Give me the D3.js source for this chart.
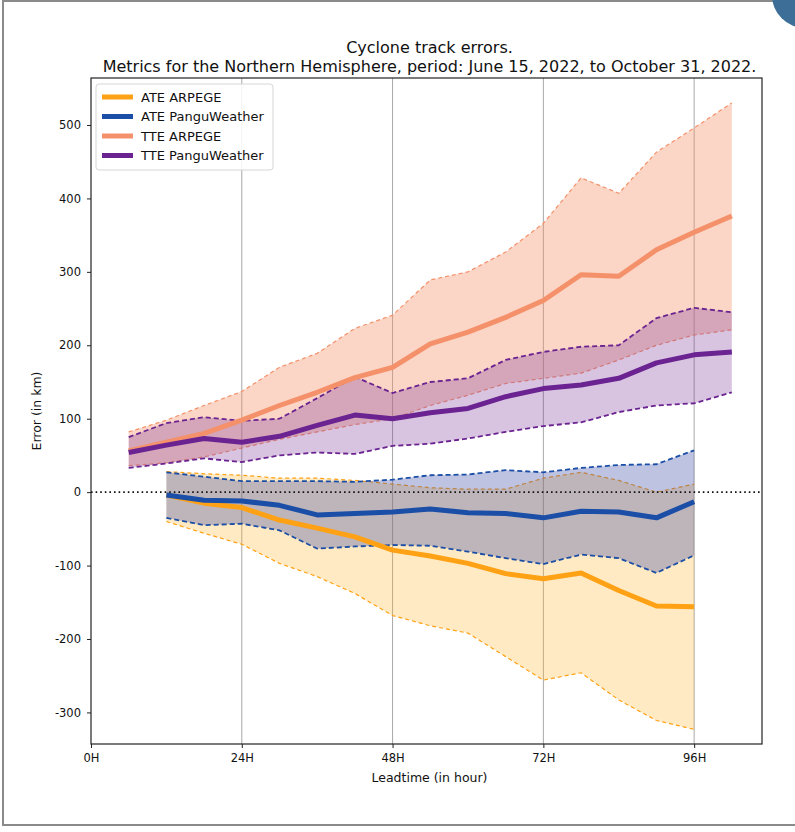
<!DOCTYPE html>
<html lang="en">
<head>
    <meta charset="UTF-8">
    <title>Cyclone track errors</title>
    <script src="https://cdn.jsdelivr.net/npm/d3@7/dist/d3.min.js"></script>
    <style>
        body { margin: 0; background: #fff; }
        svg { font-family: "DejaVu Sans", sans-serif; }
    </style>
</head>
<body>
    <div class="container"></div>
    <script>
        // lead times (hours)
        const hoursTTE = [6, 12, 18, 24, 30, 36, 42, 48, 54, 60, 66, 72, 78, 84, 90, 96, 102]
        const hoursATE = [12, 18, 24, 30, 36, 42, 48, 54, 60, 66, 72, 78, 84, 90, 96]

        const ateArpegeMean  = [-4, -15, -21, -38, -49, -61, -79, -87, -97, -111, -118, -110, -134, -155, -156]
        const ateArpegeUpper = [28, 25, 23, 19, 19, 16, 11, 6, 4, 4, 19, 27, 16, 0, 11]
        const ateArpegeLower = [-40, -56, -71, -97, -115, -138, -168, -182, -192, -224, -256, -246, -283, -311, -323]

        const atePanguMean  = [-4, -11, -12, -18, -31, -29, -27, -23, -28, -29, -35, -26, -27, -35, -13]
        const atePanguUpper = [27, 21, 15, 15, 15, 14, 17, 23, 24, 30, 27, 33, 37, 38, 57]
        const atePanguLower = [-35, -45, -43, -52, -77, -74, -72, -73, -81, -90, -98, -85, -90, -110, -86]

        const tteArpegeMean  = [56, 68, 80, 98, 118, 136, 156, 170, 202, 218, 238, 261, 296, 294, 330, 354, 376]
        const tteArpegeUpper = [82, 98, 118, 137, 170, 189, 223, 241, 289, 300, 327, 366, 428, 407, 463, 496, 530]
        const tteArpegeLower = [36, 40, 48, 60, 72, 82, 92, 100, 118, 132, 148, 155, 162, 180, 200, 214, 221]

        const ttePanguMean  = [54, 64, 73, 68, 76, 91, 105, 100, 108, 114, 130, 141, 146, 155, 176, 187, 191]
        const ttePanguUpper = [75, 94, 102, 97, 100, 128, 157, 135, 150, 155, 180, 191, 198, 200, 237, 251, 245]
        const ttePanguLower = [33, 39, 46, 41, 50, 54, 52, 63, 66, 73, 82, 90, 95, 109, 118, 121, 136]

        const xTicks = [0, 24, 48, 72, 96]
        const yTicks = [-300, -200, -100, 0, 100, 200, 300, 400, 500]
        const titleLines = ["Cyclone track errors.", "Metrics for the Northern Hemisphere, period: June 15, 2022, to October 31, 2022."]

        const series = [
            { name: "ATE ARPEGE", hours: hoursATE, mean: ateArpegeMean, lo: ateArpegeLower, hi: ateArpegeUpper,
              line: "#ffa114", fill: "#ffb020", fillOp: 0.27, dash: "4,3", dw: 1.2 },
            { name: "ATE PanguWeather", hours: hoursATE, mean: atePanguMean, lo: atePanguLower, hi: atePanguUpper,
              line: "#1b4ea6", fill: "#3b4aa6", fillOp: 0.33, dash: "5,3", dw: 1.8 },
            { name: "TTE ARPEGE", hours: hoursTTE, mean: tteArpegeMean, lo: tteArpegeLower, hi: tteArpegeUpper,
              line: "#f4916a", fill: "#f4916a", fillOp: 0.38, dash: "4,3", dw: 1.2 },
            { name: "TTE PanguWeather", hours: hoursTTE, mean: ttePanguMean, lo: ttePanguLower, hi: ttePanguUpper,
              line: "#6a2391", fill: "#7d3c9c", fillOp: 0.3, dash: "5,3", dw: 1.8 }
        ]

        const W = 795, H = 832
        const m = { left: 91, right: 762, top: 78, bottom: 744 }

        const svg = d3.select(".container").append("svg")
            .attr("width", W).attr("height", H)

        // page frame + corner decoration
        svg.append("rect").attr("x", 3).attr("y", 1).attr("width", 820).attr("height", 824)
            .attr("fill", "none").attr("stroke", "#8a8a8a").attr("stroke-width", 2)
        svg.append("circle").attr("cx", 805).attr("cy", -5).attr("r", 33).attr("fill", "#3d6e98")

        const x = d3.scaleLinear().domain([0, 106.8]).range([m.left, m.right])
        const y = d3.scaleLinear().domain([-343, 564]).range([m.bottom, m.top])

        // vertical grid
        svg.append("g").selectAll("line").data(xTicks.filter(d => d > 0)).join("line")
            .attr("x1", d => x(d)).attr("x2", d => x(d))
            .attr("y1", m.top).attr("y2", m.bottom)
            .attr("stroke", "#a8a8a8").attr("stroke-width", 1)

        const plot = svg.append("g")

        series.forEach(s => {
            const pts = s.hours.map((h, i) => ({ h, mean: s.mean[i], lo: s.lo[i], hi: s.hi[i] }))
            plot.append("path").datum(pts)
                .attr("d", d3.area().x(d => x(d.h)).y0(d => y(d.lo)).y1(d => y(d.hi)))
                .attr("fill", s.fill).attr("fill-opacity", s.fillOp)
            ;["lo", "hi"].forEach(k => {
                plot.append("path").datum(pts)
                    .attr("d", d3.line().x(d => x(d.h)).y(d => y(d[k])))
                    .attr("fill", "none").attr("stroke", s.line).attr("stroke-width", s.dw)
                    .attr("stroke-dasharray", s.dash)
            })
            s.pts = pts
        })

        series.forEach(s => {
            plot.append("path").datum(s.pts)
                .attr("d", d3.line().x(d => x(d.h)).y(d => y(d.mean)))
                .attr("fill", "none").attr("stroke", s.line).attr("stroke-width", 5)
                .attr("stroke-linejoin", "round")
        })

        // zero line
        svg.append("line")
            .attr("x1", m.left).attr("x2", m.right).attr("y1", y(0)).attr("y2", y(0))
            .attr("stroke", "#111").attr("stroke-width", 1.6).attr("stroke-dasharray", "1.6,3")

        // frame
        svg.append("rect").attr("x", m.left).attr("y", m.top)
            .attr("width", m.right - m.left).attr("height", m.bottom - m.top)
            .attr("fill", "none").attr("stroke", "#222").attr("stroke-width", 1.2)

        const xAxis = svg.append("g").attr("transform", `translate(0,${m.bottom})`)
            .call(d3.axisBottom(x).tickValues(xTicks).tickFormat(d => d + "H").tickSize(4).tickPadding(6))
        const yAxis = svg.append("g").attr("transform", `translate(${m.left},0)`)
            .call(d3.axisLeft(y).tickValues(yTicks).tickFormat(d => String(d)).tickSize(4).tickPadding(6))
        ;[xAxis, yAxis].forEach(a => {
            a.select(".domain").remove()
            a.selectAll("text").attr("font-size", 11.5).attr("fill", "#111").attr("font-family", "DejaVu Sans")
            a.selectAll("line").attr("stroke", "#222")
        })

        svg.append("text").attr("x", (m.left + m.right) / 2 + 3).attr("y", 782)
            .attr("text-anchor", "middle").attr("font-size", 12.5).attr("fill", "#111")
            .text("Leadtime (in hour)")
        svg.append("text")
            .attr("transform", `translate(41,${(m.top + m.bottom) / 2}) rotate(-90)`)
            .attr("text-anchor", "middle").attr("font-size", 12.5).attr("fill", "#111")
            .text("Error (in km)")

        svg.selectAll(".title").data(titleLines).join("text")
            .attr("class", "title")
            .attr("x", (m.left + m.right) / 2 + 3).attr("y", (d, i) => 53 + i * 19)
            .attr("text-anchor", "middle").attr("font-size", 16).attr("fill", "#111")
            .text(d => d)

        // legend
        const lg = svg.append("g").attr("transform", "translate(96,84)")
        lg.append("rect").attr("width", 177).attr("height", 86).attr("rx", 3)
            .attr("fill", "#fff").attr("fill-opacity", 0.85).attr("stroke", "#d6d6d6")
        const items = lg.selectAll("g").data(series).join("g")
            .attr("transform", (d, i) => `translate(0,${13 + i * 19.5})`)
        items.append("line").attr("x1", 6).attr("x2", 37)
            .attr("stroke", d => d.line).attr("stroke-width", 5)
        items.append("text").attr("x", 45).attr("y", 4.5)
            .attr("font-size", 13).attr("fill", "#111").text(d => d.name)
    </script>
</body>
</html>
